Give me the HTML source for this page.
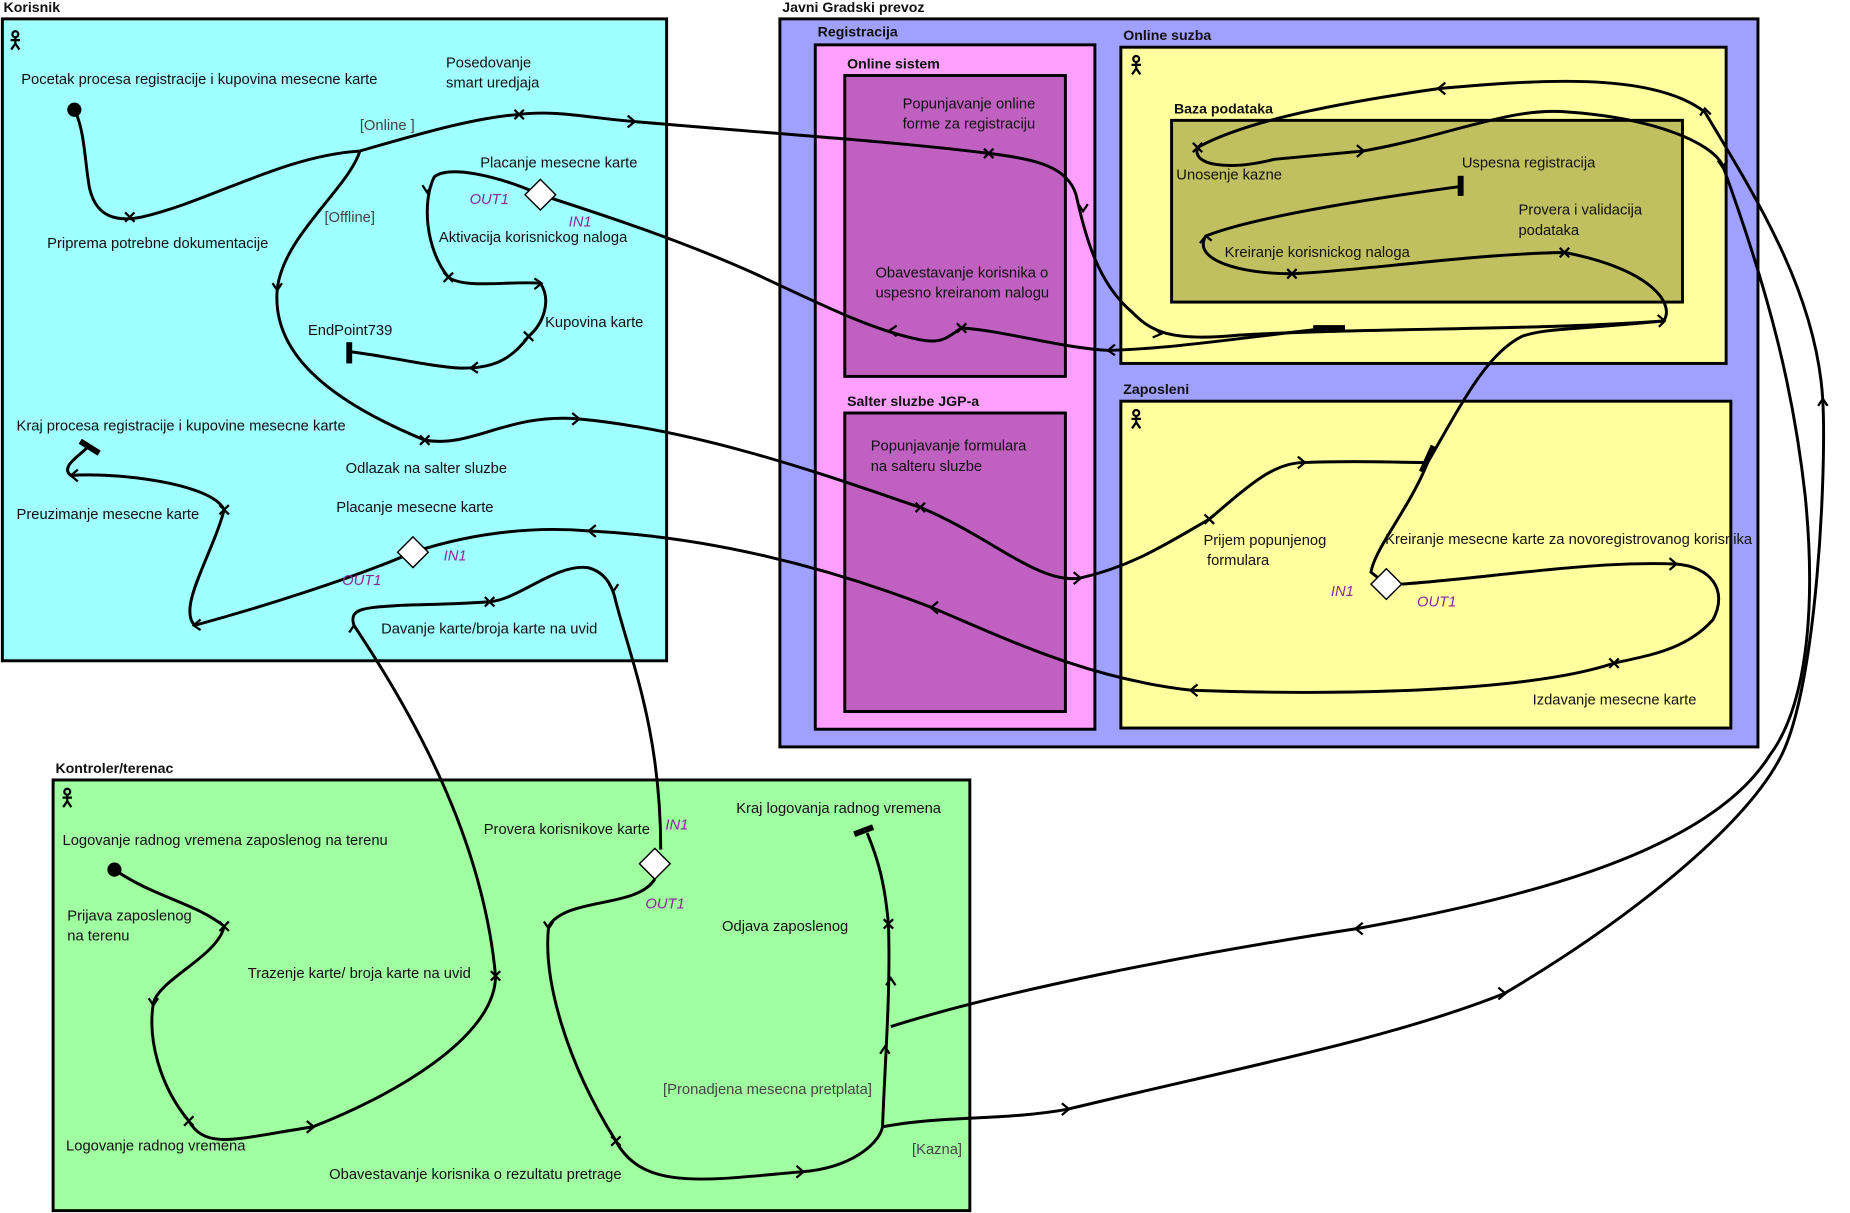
<!DOCTYPE html>
<html><head><meta charset="utf-8">
<style>
html,body{margin:0;padding:0;background:#fff;}
svg{display:block;}
text{font-family:"Liberation Sans","DejaVu Sans",sans-serif;font-size:12.5px;fill:#111;}
.b{font-weight:bold;font-size:12px;}
.p{fill:#8a2a9a;font-style:italic;}
.g{fill:#444;}
.c{fill:none;stroke:#000;stroke-width:2.5;}
.m{fill:none;stroke:#000;stroke-width:1.9;}
.box{stroke:#000;stroke-width:2.5;}
</style></head>
<body>
<svg width="1850" height="1213" viewBox="0 0 1568 1028" preserveAspectRatio="none" xmlns="http://www.w3.org/2000/svg">
<text x="3" y="10" class="b">Korisnik</text>
<rect x="2" y="16" width="563" height="544" fill="#a0ffff" class="box"/>
<text x="663" y="10" class="b">Javni Gradski prevoz</text>
<rect x="661" y="16" width="829" height="617" fill="#a0a0ff" class="box"/>
<text x="693" y="31" class="b">Registracija</text>
<rect x="691" y="38" width="237" height="580" fill="#ffa0ff" class="box"/>
<text x="718" y="58" class="b">Online sistem</text>
<rect x="716" y="64" width="187" height="255" fill="#c060c0" class="box"/>
<text x="718" y="344" class="b">Salter sluzbe JGP-a</text>
<rect x="716" y="350" width="187" height="253" fill="#c060c0" class="box"/>
<text x="952" y="34" class="b">Online suzba</text>
<rect x="950" y="40" width="513" height="268" fill="#ffffa0" class="box"/>
<text x="995" y="96" class="b">Baza podataka</text>
<rect x="993" y="102" width="433" height="154" fill="#c0c060" class="box"/>
<text x="952" y="334" class="b">Zaposleni</text>
<rect x="950" y="340" width="517" height="277" fill="#ffffa0" class="box"/>
<text x="47" y="655" class="b">Kontroler/terenac</text>
<rect x="45" y="661" width="777" height="365" fill="#a0ffa0" class="box"/>

<g class="m" stroke-width="1.3">
<g transform="translate(13,26)"><circle cx="0" cy="3" r="2.5"/><path d="M0,5.5V11M-4,8H4M0,11L-3.5,16M0,11L3.5,16"/></g>
<g transform="translate(963,47)"><circle cx="0" cy="3" r="2.5"/><path d="M0,5.5V11M-4,8H4M0,11L-3.5,16M0,11L3.5,16"/></g>
<g transform="translate(963,347)"><circle cx="0" cy="3" r="2.5"/><path d="M0,5.5V11M-4,8H4M0,11L-3.5,16M0,11L3.5,16"/></g>
<g transform="translate(57,668)"><circle cx="0" cy="3" r="2.5"/><path d="M0,5.5V11M-4,8H4M0,11L-3.5,16M0,11L3.5,16"/></g>
</g>

<g class="c">
<path d="M63,93 C72,110 72,140 76,160 C82,185 100,188 120,184 C180,170 240,132 305,128 C350,115 400,100 440,97 C470,93 500,100 537,103 C640,112 760,120 838,130 C880,135 905,142 912,165 C920,200 930,240 960,265 C975,280 990,290 1050,284 C1150,278 1300,280 1410,272"/>
<path d="M1410,272 C1420,258 1400,228 1326,214 C1250,215 1150,230 1095,232 C1050,232 1010,220 1022,200 C1060,185 1150,170 1238,158"/>
<path d="M1128,278 C1060,285 1000,295 940,297 C900,295 850,280 815,278 C805,284 800,292 780,288 C740,280 700,260 640,232 C580,205 520,185 458,165"/>
<path d="M458,165 C420,148 380,140 368,150 C358,170 360,210 380,235 C395,245 430,238 458,240 C468,255 460,275 448,285 C430,310 410,312 390,312 C360,310 330,302 296,298"/>
<path d="M305,128 C295,160 240,200 235,245 C230,300 280,340 360,373 C400,380 430,350 490,355 C600,365 720,410 780,430 C840,455 880,495 915,490 C960,480 990,460 1025,440 C1060,410 1080,392 1105,392 C1150,390 1180,392 1210,392"/>
<path d="M1210,392 C1240,340 1260,300 1290,285 C1310,278 1330,280 1410,272"/>
<path d="M1210,392 C1195,430 1165,465 1162,485 L1175,495"/>
<path d="M1188,495 C1260,490 1350,475 1420,478 C1450,480 1465,500 1452,525 C1430,550 1400,555 1368,562 C1300,585 1150,590 1010,585 C920,575 850,540 790,515 C700,480 600,455 500,450 C440,445 390,455 350,468"/>
<path d="M350,468 C300,490 220,515 165,530 C150,515 180,470 190,432 C180,410 100,400 60,403 C50,395 70,385 75,378"/>
<path d="M420,827 C410,720 360,620 300,530 C295,515 310,515 340,513 C370,512 390,512 415,510 C440,508 470,478 498,481 C515,485 520,500 522,510 C535,560 560,620 560,720"/>
<path d="M97,737 C130,760 165,765 190,785 C185,810 135,830 130,850 C125,880 135,920 160,950 C175,975 200,965 265,955 C330,930 420,880 420,827"/>
<path d="M555,745 C540,770 480,760 465,785 C460,830 480,900 522,967 C545,1010 600,1000 680,993 C720,990 745,970 748,955 C750,900 755,840 753,783 C750,750 745,730 735,706"/>
<path d="M748,955 C800,945 850,950 905,940 C1050,905 1180,880 1275,842 C1380,780 1480,700 1510,640 C1540,580 1548,400 1545,340 C1540,250 1490,170 1445,95 C1400,60 1300,68 1220,75 C1150,85 1060,100 1015,125"/>
<path d="M1015,125 C1010,140 1040,145 1080,135 L1155,128 C1230,115 1280,90 1330,95 C1400,100 1450,120 1460,140 C1500,250 1520,330 1530,420 C1540,520 1530,600 1500,640 C1450,720 1300,760 1150,787 C1000,810 850,840 755,870"/>
</g>

<g fill="#fff" stroke="#000" stroke-width="1.2">
<polygon points="458,152 471,165 458,178 445,165"/>
<polygon points="350,455 363,468 350,481 337,468"/>
<polygon points="1175,482 1188,495 1175,508 1162,495"/>
<polygon points="555,719 568,732 555,745 542,732"/>
</g>
<circle cx="63" cy="93" r="6" fill="#000"/>
<circle cx="97" cy="737" r="6" fill="#000"/>
<g stroke="#000" stroke-width="5" fill="none">
<path d="M296,290V308"/>
<path d="M68,374L84,384"/>
<path d="M1238,149V166"/>
<path d="M1113,278H1140"/>
<path d="M1215,378L1205,400"/>
<path d="M724,707L740,701"/>
</g>
<g class="m">
<path d="M106,180l8,8M114,180l-8,8"/>
<path d="M436,93l8,8M444,93l-8,8"/>
<path d="M834,126l8,8M842,126l-8,8"/>
<path d="M376,231l8,8M384,231l-8,8"/>
<path d="M444,281l8,8M452,281l-8,8"/>
<path d="M356,369l8,8M364,369l-8,8"/>
<path d="M186,428l8,8M194,428l-8,8"/>
<path d="M411,506l8,8M419,506l-8,8"/>
<path d="M776,426l8,8M784,426l-8,8"/>
<path d="M1021,436l8,8M1029,436l-8,8"/>
<path d="M1364,558l8,8M1372,558l-8,8"/>
<path d="M1011,121l8,8M1019,121l-8,8"/>
<path d="M1322,210l8,8M1330,210l-8,8"/>
<path d="M1091,228l8,8M1099,228l-8,8"/>
<path d="M811,274l8,8M819,274l-8,8"/>
<path d="M186,781l8,8M194,781l-8,8"/>
<path d="M416,823l8,8M424,823l-8,8"/>
<path d="M156,946l8,8M164,946l-8,8"/>
<path d="M518,963l8,8M526,963l-8,8"/>
<path d="M749,779l8,8M757,779l-8,8"/>
</g>
<g class="m">
<path d="M532,98l6,5l-6,5"/>
<path d="M914,173l4,6l4,-6"/>
<path d="M978,278l6,5l-7,3"/>
<path d="M1405,267l6,5l-5,5"/>
<path d="M1017,206l5,-6l5,4"/>
<path d="M945,292l-6,5l6,4"/>
<path d="M760,276l-6,4l6,5"/>
<path d="M358,157l4,6l4,-6"/>
<path d="M453,236l6,4l-6,5"/>
<path d="M405,307l-6,5l6,4"/>
<path d="M231,240l4,6l4,-6"/>
<path d="M485,350l6,5l-6,5"/>
<path d="M910,485l6,5l-6,5"/>
<path d="M1100,387l6,5l-6,5"/>
<path d="M1415,473l6,5l-6,5"/>
<path d="M1015,580l-6,5l6,5"/>
<path d="M795,510l-6,5l6,5"/>
<path d="M505,445l-6,5l6,5"/>
<path d="M170,525l-6,5l6,4"/>
<path d="M66,398l-6,5l6,5"/>
<path d="M296,536l4,-6l4,6"/>
<path d="M516,495l4,6l4,-6"/>
<path d="M126,846l4,6l4,-6"/>
<path d="M260,950l6,5l-6,5"/>
<path d="M461,781l4,6l4,-6"/>
<path d="M675,988l6,5l-6,5"/>
<path d="M746,893l4,-6l4,6"/>
<path d="M751,835l4,-6l4,6"/>
<path d="M900,935l6,5l-6,5"/>
<path d="M1270,837l6,5l-6,5"/>
<path d="M1541,344l4,-6l4,6"/>
<path d="M1441,98l4,-6l5,5"/>
<path d="M1225,70l-6,5l6,5"/>
<path d="M1150,123l6,5l-6,5"/>
<path d="M1456,136l4,6l4,-6"/>
<path d="M1155,782l-6,5l6,5"/>
</g>

<text x="18" y="71">Pocetak procesa registracije i kupovina mesecne karte</text>
<text x="378" y="57">Posedovanje</text>
<text x="378" y="74">smart uredjaja</text>
<text x="305" y="110" class="g">[Online ]</text>
<text x="275" y="188" class="g">[Offline]</text>
<text x="40" y="210">Priprema potrebne dokumentacije</text>
<text x="407" y="142">Placanje mesecne karte</text>
<text x="398" y="173" class="p">OUT1</text>
<text x="482" y="192" class="p">IN1</text>
<text x="372" y="205">Aktivacija korisnickog naloga</text>
<text x="462" y="277">Kupovina karte</text>
<text x="261" y="284">EndPoint739</text>
<text x="14" y="365">Kraj procesa registracije i kupovine mesecne karte</text>
<text x="293" y="401">Odlazak na salter sluzbe</text>
<text x="14" y="440">Preuzimanje mesecne karte</text>
<text x="285" y="434">Placanje mesecne karte</text>
<text x="376" y="475" class="p">IN1</text>
<text x="290" y="496" class="p">OUT1</text>
<text x="323" y="537">Davanje karte/broja karte na uvid</text>

<text x="765" y="92">Popunjavanje online</text>
<text x="765" y="109">forme za registraciju</text>
<text x="742" y="235">Obavestavanje korisnika o</text>
<text x="742" y="252">uspesno kreiranom nalogu</text>
<text x="738" y="382">Popunjavanje formulara</text>
<text x="738" y="399">na salteru sluzbe</text>
<text x="997" y="152">Unosenje kazne</text>
<text x="1239" y="142">Uspesna registracija</text>
<text x="1287" y="182">Provera i validacija</text>
<text x="1287" y="199">podataka</text>
<text x="1038" y="218">Kreiranje korisnickog naloga</text>
<text x="1020" y="462">Prijem popunjenog</text>
<text x="1023" y="479">formulara</text>
<text x="1174" y="461">Kreiranje mesecne karte za novoregistrovanog korisnika</text>
<text x="1128" y="505" class="p">IN1</text>
<text x="1201" y="514" class="p">OUT1</text>
<text x="1299" y="597">Izdavanje mesecne karte</text>

<text x="53" y="716">Logovanje radnog vremena  zaposlenog na terenu</text>
<text x="410" y="707">Provera korisnikove karte</text>
<text x="564" y="703" class="p">IN1</text>
<text x="547" y="770" class="p">OUT1</text>
<text x="624" y="689">Kraj logovanja radnog vremena</text>
<text x="57" y="780">Prijava zaposlenog</text>
<text x="57" y="797">na terenu</text>
<text x="612" y="789">Odjava zaposlenog</text>
<text x="210" y="829">Trazenje karte/ broja karte na uvid</text>
<text x="562" y="927" class="g">[Pronadjena mesecna pretplata]</text>
<text x="56" y="975">Logovanje radnog vremena</text>
<text x="773" y="978" class="g">[Kazna]</text>
<text x="279" y="999">Obavestavanje korisnika o rezultatu pretrage</text>
</svg>
</body></html>
